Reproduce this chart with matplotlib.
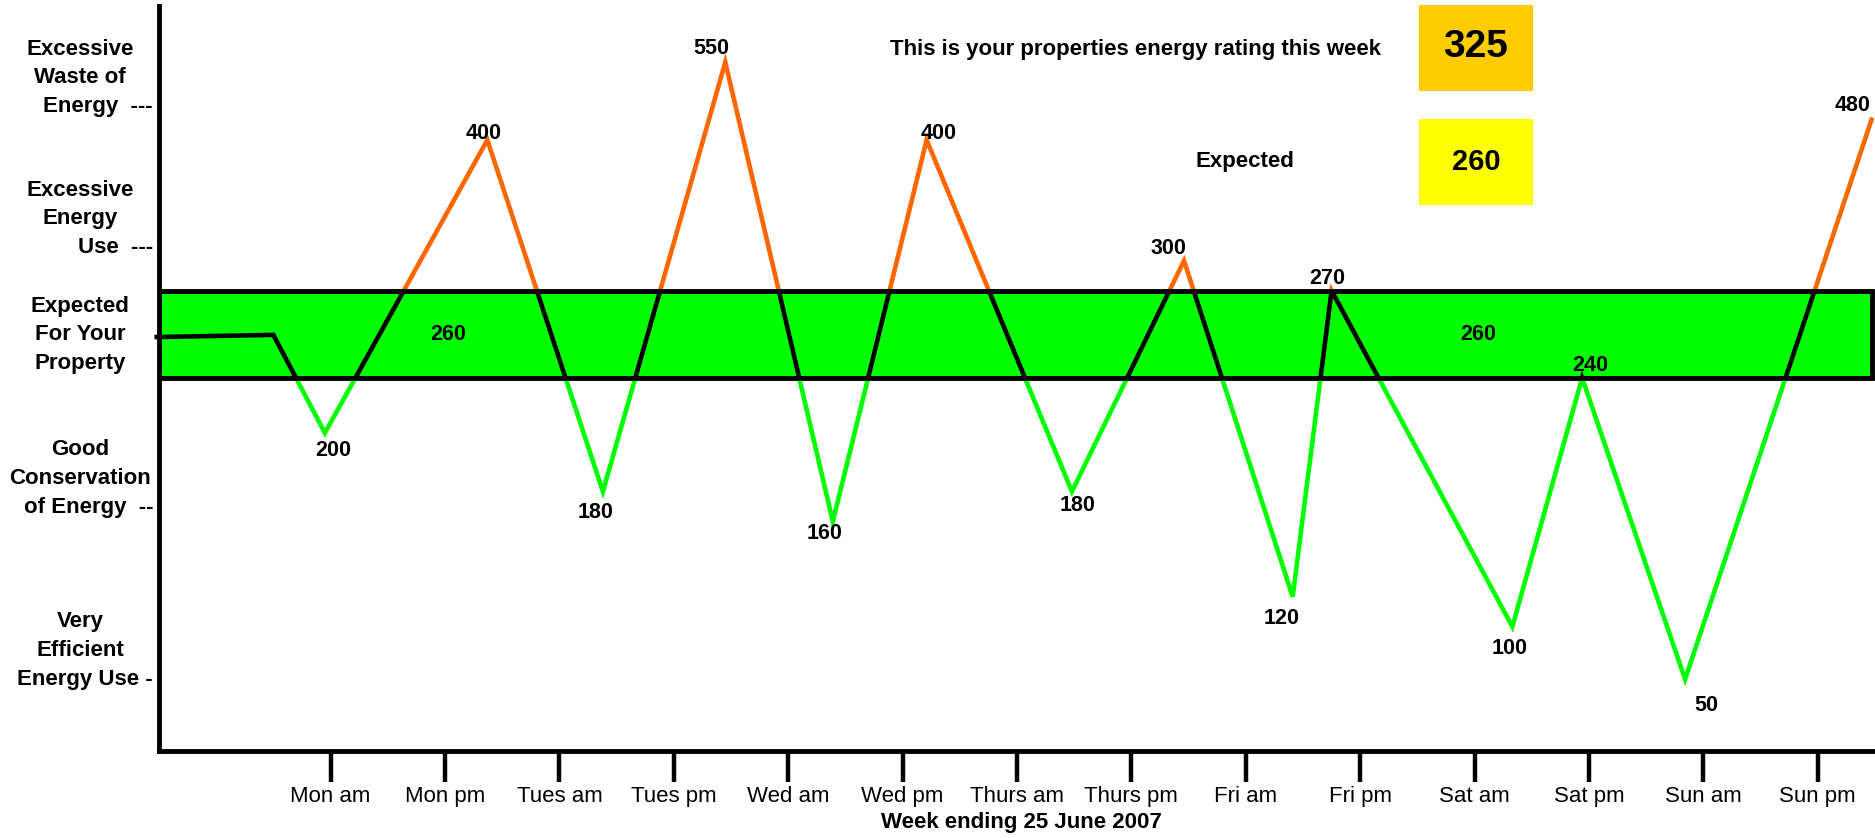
import numpy as np
import matplotlib
matplotlib.use('Agg')
import matplotlib.pyplot as plt
from matplotlib.patches import Rectangle

plt.rcParams['font.family'] = ['Liberation Sans', 'DejaVu Sans']

# values
periods = ['Mon am', 'Mon pm', 'Tues am', 'Tues pm', 'Wed am', 'Wed pm', 'Thurs am',
           'Thurs pm', 'Fri am', 'Fri pm', 'Sat am', 'Sat pm', 'Sun am', 'Sun pm']
reading_x = [-1.52, -0.5, -0.05, 1.37, 2.38, 3.45, 4.39, 5.21, 6.48, 7.46, 8.41, 8.75,
             10.33, 10.94, 11.84, 13.47]
reading_val = [259, 260, 200, 400, 180, 550, 160, 400, 180, 300, 120, 270, 100, 240, 50, 480]
expected = 260
band_low = 240
band_high = 270
rating_week = 325

level_labels = [['Excessive', 'Waste of', 'Energy  ---'],
                ['Excessive', 'Energy', 'Use  ---'],
                ['Expected', 'For Your', 'Property'],
                ['Good', 'Conservation', 'of Energy  --'],
                ['Very', 'Efficient', 'Energy Use -']]

# the y axis of the original is hand drawn, not linear: value -> height (px from top)
scale_vals = [-15, 50, 100, 120, 160, 180, 200, 240, 260, 270, 300, 400, 480, 550, 660]
scale_px = np.array([628, 568, 524, 499, 436, 411, 362, 316, 280, 243, 218, 117, 100, 52, 5])
scale_frac = (628 - scale_px) / 623.0

# label offsets (points) for each reading, from the 3rd point on
lab_off = [(6, -13), (-3, 5), (-5, -15), (-10, 10), (-6, -9), (9, 5), (4, -10),
           (-11, 9), (-8, -16), (-3, 9), (-2, -16), (6, 9), (15, -19), (-14, 10)]

orange = '#FF6600'
green = '#00FF00'

fig = plt.figure(figsize=(18.75, 8.38), dpi=100)
ax = fig.add_axes([0.0848, 0.1038, 0.9152, 0.889])

fwd = lambda v: np.interp(v, scale_vals, scale_frac)
inv = lambda f: np.interp(f, scale_frac, scale_vals)
ax.set_yscale('function', functions=(fwd, inv))
ax.set_ylim(-15, 660)
ax.set_xlim(-1.5, 13.5)

# expected band
ax.add_patch(Rectangle((0, band_low), 0.998, band_high - band_low, transform=ax.get_yaxis_transform(),
                       facecolor=green, edgecolor='none', zorder=1))
ax.add_patch(Rectangle((0, band_low), 0.998, band_high - band_low, transform=ax.get_yaxis_transform(),
                       facecolor='none', edgecolor='black', lw=3.5, zorder=4))

# line coloured by zone: clip one copy per zone
zones = [(-15, band_low, green), (band_low, band_high, 'black'), (band_high, 660, orange)]
for lo, hi, c in zones:
    ln, = ax.plot(reading_x, reading_val, color=c, lw=3.3, zorder=3, solid_joinstyle='miter')
    clip = Rectangle((-0.01, lo), 1.02, hi - lo, transform=ax.get_yaxis_transform())
    ln.set_clip_path(clip)
    ln.set_clip_on(True)

for i in range(2, len(reading_val)):
    ax.annotate(str(reading_val[i]), (reading_x[i], reading_val[i]), xytext=lab_off[i - 2],
                textcoords='offset points', ha='center', va='center', fontsize=15.5,
                fontweight='bold', zorder=5)

for bx in [1.03, 10.03]:
    ax.text(bx, expected, str(expected), ha='center', va='center', fontsize=15.5,
            fontweight='bold', zorder=5)

ax.set_xticks(range(len(periods)))
ax.set_xticklabels(periods, fontsize=16)
ax.set_yticks([])
ax.tick_params(axis='x', direction='out', length=22, width=3.2, pad=3)
ax.spines['top'].set_visible(False)
ax.spines['right'].set_visible(False)
ax.spines['left'].set_linewidth(3.5)
ax.spines['bottom'].set_linewidth(3.5)
ax.spines['left'].set_zorder(6)

fig.text(0.545, 0.018, 'Week ending 25 June 2007', ha='center', va='center',
         fontsize=16, fontweight='bold')

# left hand level descriptions
last_line_px = [89, 207, 304, 424, 568]
for lines, p in zip(level_labels, last_line_px):
    for k, t in enumerate(lines):
        y = 1 - (p - 24 * (len(lines) - 1 - k)) * 1.196 / 838
        if t.endswith('-'):
            fig.text(0.0816, y, t, ha='right', va='center', fontsize=16, fontweight='bold')
        else:
            fig.text(0.0427, y, t, ha='center', va='center', fontsize=16, fontweight='bold')

# rating boxes
fig.add_artist(Rectangle((1419 / 1875, 1 - 91 / 838), 114 / 1875, 86 / 838,
                         transform=fig.transFigure, facecolor='#FFCC00', edgecolor='none'))
fig.add_artist(Rectangle((1419 / 1875, 1 - 205 / 838), 114 / 1875, 86 / 838,
                         transform=fig.transFigure, facecolor='#FFFF00', edgecolor='none'))
fig.text(1476 / 1875, 1 - 47 / 838, str(rating_week), ha='center', va='center',
         fontsize=28, fontweight='bold')
fig.text(1476 / 1875, 1 - 162 / 838, str(expected), ha='center', va='center',
         fontsize=21, fontweight='bold')
fig.text(1136 / 1875, 1 - 49 / 838, 'This is your properties energy rating this week',
         ha='center', va='center', fontsize=16, fontweight='bold')
fig.text(1245 / 1875, 1 - 162 / 838, 'Expected', ha='center', va='center',
         fontsize=16, fontweight='bold')

fig.savefig('out.png', dpi=100)
